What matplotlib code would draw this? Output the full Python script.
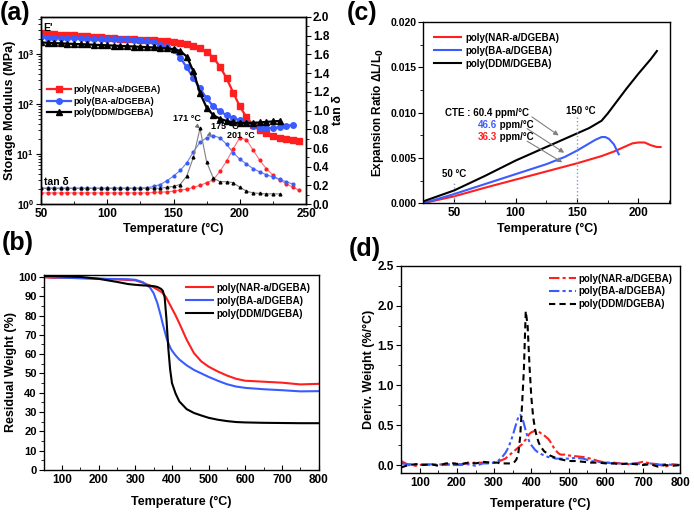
import numpy as np
import matplotlib.pyplot as plt
from matplotlib.ticker import MultipleLocator, FormatStrFormatter, LogLocator

plt.rcParams['font.family'] = ['Liberation Sans', 'DejaVu Sans']
plt.rcParams['font.weight'] = 'bold'
plt.rcParams['axes.labelweight'] = 'bold'
plt.rcParams['mathtext.default'] = 'bf'
plt.rcParams['font.size'] = 8.5
plt.rcParams['axes.linewidth'] = 1.0

RED = '#ff1f1f'
BLUE = '#3a5cff'
BLACK = '#000000'
names = ['poly(NAR-a/DGEBA)', 'poly(BA-a/DGEBA)', 'poly(DDM/DGEBA)']

# ---- (a) DMA ----
t_nar = np.arange(50, 250, 5)
t_ba = np.arange(50, 245, 5)
t_ddm = np.arange(50, 235, 5)
e_nar = [2600, 2550, 2500, 2450, 2400, 2350, 2300, 2250, 2200, 2150, 2100, 2050, 2000,
         1980, 1950, 1920, 1900, 1870, 1830, 1780, 1720, 1650, 1560, 1450, 1300, 1100,
         850, 560, 330, 170, 90, 55, 38, 30, 26, 23, 21, 20, 19, 18.5]
e_ba = [2150, 2120, 2100, 2080, 2060, 2050, 2040, 2030, 2020, 2010, 2000, 1990, 1980,
        1960, 1940, 1900, 1850, 1720, 1500, 1380, 1180, 850, 540, 330, 205, 130, 90,
        72, 60, 53, 47, 41, 36, 34, 33, 33, 34.5, 36.5, 38.5]
e_ddm = [1700, 1680, 1650, 1630, 1610, 1590, 1570, 1550, 1530, 1510, 1490, 1470, 1450,
         1430, 1410, 1390, 1370, 1350, 1320, 1290, 1250, 1150, 890, 450, 165, 85, 60,
         51, 46, 43, 42, 42, 42, 43, 44, 45, 46]
tan_nar = [0.12] * 17 + [0.125, 0.13, 0.13, 0.14, 0.15, 0.16, 0.18, 0.2, 0.23, 0.26,
                          0.35, 0.46, 0.59, 0.71, 0.69, 0.58, 0.47, 0.38, 0.31, 0.26,
                          0.22, 0.18, 0.15]
tan_ba = [0.17] * 16 + [0.175, 0.19, 0.21, 0.25, 0.3, 0.36, 0.44, 0.56, 0.66, 0.71,
                         0.73, 0.71, 0.64, 0.55, 0.48, 0.43, 0.38, 0.345, 0.315, 0.29,
                         0.265, 0.24, 0.215]
tan_ddm = [0.17] * 19 + [0.18, 0.19, 0.21, 0.3, 0.5, 0.81, 0.45, 0.28, 0.24, 0.24,
                          0.23, 0.18, 0.14, 0.12, 0.115, 0.11, 0.11, 0.11]

# ---- (b) TGA ----
t_tga = [50, 75, 100, 150, 200, 250, 280, 300, 320, 340, 350, 360, 370, 375, 380, 385,
         390, 395, 400, 410, 420, 440, 460, 480, 500, 525, 550, 575, 600, 650, 700, 750, 800]
w_nar = [99.8, 99.5, 99.6, 99.4, 99.1, 98.7, 98.4, 98.2, 97.0, 95.5, 94.6, 93.5, 92.3,
         91.5, 90.5, 89.0, 87.2, 85.4, 83.6, 80.0, 76.0, 67.5, 60.5, 56.2, 53.5, 51.0,
         48.9, 47.2, 46.2, 45.7, 45.2, 44.3, 44.6]
w_ba = [100.0, 99.8, 99.6, 99.3, 99.0, 98.9, 98.8, 98.5, 97.3, 94.5, 91.5, 86.5, 79.5,
        75.5, 72.0, 68.5, 65.8, 63.5, 61.8, 59.3, 57.2, 54.2, 51.8, 50.0, 48.2, 46.2,
        44.4, 43.2, 42.5, 41.8, 41.3, 40.7, 40.8]
w_ddm = [100.5, 100.5, 100.3, 100.0, 99.0, 97.4, 96.3, 95.9, 95.6, 95.4, 95.2, 94.8,
         93.8, 92.8, 89.5, 78.0, 63.0, 52.0, 45.0, 39.5, 35.5, 31.5, 29.5, 28.2, 27.0,
         26.0, 25.3, 24.8, 24.6, 24.4, 24.3, 24.2, 24.2]

# ---- (c) TMA ----
t_tma_nar = [25, 50, 75, 100, 125, 150, 160, 170, 180, 190, 195, 200, 205, 210, 215, 218]
x_nar = [0.0, 0.00075, 0.0017, 0.0026, 0.0035, 0.0044, 0.0048, 0.0052, 0.0057, 0.0063,
         0.0066, 0.0067, 0.0067, 0.0064, 0.0062, 0.0062]
t_tma_ba = [25, 50, 75, 100, 125, 140, 150, 160, 165, 170, 173, 176, 180, 184]
x_ba = [0.0, 0.001, 0.0021, 0.0032, 0.0043, 0.0051, 0.0058, 0.0066, 0.0070, 0.0073,
        0.0073, 0.0071, 0.0065, 0.0054]
t_tma_ddm = [25, 50, 75, 100, 125, 150, 160, 165, 170, 175, 180, 190, 200, 210, 215]
x_ddm = [0.0002, 0.0014, 0.003, 0.0047, 0.0062, 0.0077, 0.0083, 0.0087, 0.0091, 0.0099,
         0.0108, 0.0126, 0.0143, 0.0159, 0.0168]

# ---- (d) DTG ----
t_dtg = np.concatenate([np.arange(50, 300, 20), np.arange(300, 500, 5), np.arange(500, 801, 20)])
d_nar = [0.05, 0.0, -0.01, 0.01, 0.0, 0.01, 0.0, 0.02, 0.01, 0.02, 0.03, 0.03, 0.03,
         0.03, 0.04, 0.04, 0.05, 0.06, 0.07, 0.08, 0.1, 0.12, 0.14, 0.16, 0.18, 0.2, 0.22,
         0.24, 0.26, 0.29, 0.32, 0.36, 0.39, 0.41, 0.42, 0.43, 0.43, 0.42, 0.4, 0.39, 0.37,
         0.35, 0.33, 0.3, 0.26, 0.22, 0.19, 0.16, 0.14, 0.13, 0.13, 0.13, 0.12,
         0.12, 0.11, 0.1, 0.08, 0.05, 0.03, 0.03, 0.02, 0.01, 0.02, 0.04, 0.02, 0.01, -0.02, 0.01, 0.0]
d_ba = [0.02, 0.01, 0.01, 0.0, 0.01, 0.0, 0.01, 0.0, 0.0, 0.01, -0.01, 0.02, 0.02,
        0.03, 0.04, 0.05, 0.07, 0.09, 0.12, 0.15, 0.19, 0.24, 0.3, 0.37, 0.45, 0.53, 0.6,
        0.63, 0.6, 0.52, 0.43, 0.35, 0.29, 0.25, 0.22, 0.19, 0.17, 0.15, 0.14, 0.13, 0.12,
        0.11, 0.1, 0.1, 0.09, 0.09, 0.08, 0.08, 0.08, 0.08, 0.08, 0.08, 0.08,
        0.08, 0.09, 0.08, 0.05, 0.04, 0.03, 0.02, 0.02, 0.01, 0.02, 0.01, 0.02, 0.0, 0.01, 0.0, 0.0]
d_ddm = [-0.03, 0.0, 0.01, 0.0, 0.01, -0.01, 0.02, 0.02, 0.01, 0.03, 0.02, 0.04, 0.03,
         0.03, 0.03, 0.03, 0.02, 0.02, 0.02, 0.02, 0.02, 0.02, 0.02, 0.03, 0.04, 0.07, 0.15,
         0.35, 0.75, 1.2, 1.93, 1.75, 1.25, 0.85, 0.6, 0.45, 0.35, 0.28, 0.23, 0.2, 0.17,
         0.155, 0.14, 0.12, 0.11, 0.1, 0.09, 0.08, 0.075, 0.07, 0.065, 0.06, 0.055,
         0.05, 0.05, 0.04, 0.03, 0.03, 0.02, 0.02, 0.01, 0.02, 0.01, 0.0, 0.01, -0.02, 0.0, -0.01, 0.0]


def style(ax):
    ax.tick_params(axis='x', which='both', direction='in', top=False, pad=3)
    ax.tick_params(axis='y', which='both', direction='out', right=False, pad=1.5)
    ax.tick_params(which='major', length=3.5, labelsize=8.5)
    ax.tick_params(which='minor', length=2)
    for lab in ax.get_xticklabels() + ax.get_yticklabels():
        lab.set_fontweight('bold')


fig = plt.figure(figsize=(6.94, 5.13), dpi=100)

# (a)
ax = fig.add_axes([0.059, 0.602, 0.382, 0.365])
ax.plot(t_nar, e_nar, '-s', color=RED, ms=4, lw=1.6, label=names[0])
ax.plot(t_ba, e_ba, '-o', color=BLUE, ms=4, lw=1.6, label=names[1])
ax.plot(t_ddm, e_ddm, '-^', color=BLACK, ms=4, lw=1.6, label=names[2])
ax.set_yscale('log')
ax.set_ylim(1, 5500)
ax.set_xlim(50, 250)
ax.xaxis.set_major_locator(MultipleLocator(50))
ax.xaxis.set_minor_locator(MultipleLocator(25))
ax.yaxis.set_major_locator(LogLocator(base=10, numticks=6))
ax.set_xlabel('Temperature (°C)', fontsize=9, labelpad=2)
ax.set_ylabel('Storage Modulus (MPa)', fontsize=9, labelpad=0)
style(ax)
ax.tick_params(axis='y', labelsize=7.5)
ax.legend(loc='upper left', bbox_to_anchor=(0.0, 0.67), frameon=False, fontsize=6.5,
          handlelength=2.6, handletextpad=0.3, labelspacing=0.3, borderpad=0.2)
ax.text(52, 3300, "E'", fontsize=7.5, fontweight='bold', va='center')
ax2 = ax.twinx()
ax2.plot(t_nar, tan_nar, '-o', color='#ff7080', mfc=RED, mec=RED, ms=2, lw=0.8)
ax2.plot(t_ba, tan_ba, '-o', color='#7080d8', mfc=BLUE, mec=BLUE, ms=2, lw=0.8)
ax2.plot(t_ddm, tan_ddm, '-^', color='#808080', mfc=BLACK, mec=BLACK, ms=2, lw=0.8)
ax2.set_ylim(0, 2.0)
ax2.yaxis.set_major_locator(MultipleLocator(0.2))
ax2.yaxis.set_minor_locator(MultipleLocator(0.1))
ax2.yaxis.set_major_formatter(FormatStrFormatter('%.1f'))
ax2.tick_params(axis='y', which='both', direction='out', labelsize=8.5, pad=1.5)
ax2.tick_params(which='major', length=3.5)
ax2.tick_params(which='minor', length=2)
for lab in ax2.get_yticklabels():
    lab.set_fontweight('bold')
ax2.set_ylabel('tan δ', fontsize=9, labelpad=2)
ax2.text(52, 0.24, 'tan δ', fontsize=7.5, fontweight='bold', va='center')
arr = dict(arrowstyle='-|>', color='#707070', lw=0.7, mutation_scale=6)
ax2.annotate('171 °C', xy=(170, 0.81), xytext=(160, 0.92), fontsize=6.5, fontweight='bold',
             ha='center', va='center', arrowprops=arr)
ax2.annotate('175 °C', xy=(175, 0.73), xytext=(189, 0.83), fontsize=6.5, fontweight='bold',
             ha='center', va='center', arrowprops=arr)
ax2.text(201, 0.735, '201 °C', fontsize=6.5, fontweight='bold', ha='center', va='center')
fig.text(0.0, 0.998, '(a)', fontsize=18, fontweight='bold', va='top')

# (c)
ax = fig.add_axes([0.610, 0.604, 0.356, 0.353])
ax.plot(t_tma_nar, x_nar, color=RED, lw=1.5, label=names[0])
ax.plot(t_tma_ba, x_ba, color=BLUE, lw=1.5, label=names[1])
ax.plot(t_tma_ddm, x_ddm, color=BLACK, lw=1.5, label=names[2])
ax.set_xlim(25, 226)
ax.set_ylim(0, 0.02)
ax.xaxis.set_major_locator(MultipleLocator(50))
ax.xaxis.set_minor_locator(MultipleLocator(25))
ax.yaxis.set_major_locator(MultipleLocator(0.005))
ax.yaxis.set_minor_locator(MultipleLocator(0.0025))
ax.yaxis.set_major_formatter(FormatStrFormatter('%.3f'))
ax.set_xlabel('Temperature (°C)', fontsize=9, labelpad=3)
ax.set_ylabel('Expansion Ratio ΔL/L$_0$', fontsize=8.5, labelpad=3)
style(ax)
ax.tick_params(axis='y', labelsize=7.5)
ax.legend(loc='upper left', frameon=False, fontsize=7, handlelength=2.8,
          handletextpad=0.4, labelspacing=0.3, borderpad=0.6)
ax.plot([50, 50], [0, 0.0025], ls=':', color='#8898c0', lw=1)
ax.plot([150, 150], [0, 0.0096], ls=':', color='#8898c0', lw=1)
ax.text(50, 0.0032, '50 °C', fontsize=7, fontweight='bold', ha='center', va='center')
ax.text(153, 0.0102, '150 °C', fontsize=7, fontweight='bold', ha='center', va='center')
ax.text(111, 0.0100, 'CTE : 60.4 ppm/°C', fontsize=7, fontweight='bold', ha='right', va='center')
ax.text(85, 0.00866, '46.6', color=BLUE, fontsize=7, fontweight='bold', ha='right', va='center')
ax.text(85, 0.00866, ' ppm/°C', fontsize=7, fontweight='bold', ha='left', va='center')
ax.text(85, 0.0073, '36.3', color=RED, fontsize=7, fontweight='bold', ha='right', va='center')
ax.text(85, 0.0073, ' ppm/°C', fontsize=7, fontweight='bold', ha='left', va='center')
arr2 = dict(arrowstyle='-|>', color='#808080', lw=0.8, mutation_scale=7)
ax.annotate('', xy=(137, 0.0073), xytext=(111.5, 0.0097), arrowprops=arr2)
ax.annotate('', xy=(141.5, 0.0054), xytext=(107.5, 0.0084), arrowprops=arr2)
ax.annotate('', xy=(140, 0.00435), xytext=(107.5, 0.0070), arrowprops=arr2)
fig.text(0.5, 0.998, '(c)', fontsize=18, fontweight='bold', va='top')

# (b)
ax = fig.add_axes([0.063, 0.084, 0.396, 0.380])
ax.plot(t_tga, w_nar, color=RED, lw=1.5, label=names[0])
ax.plot(t_tga, w_ba, color=BLUE, lw=1.5, label=names[1])
ax.plot(t_tga, w_ddm, color=BLACK, lw=1.5, label=names[2])
ax.set_xlim(50, 800)
ax.set_ylim(0, 101)
ax.xaxis.set_major_locator(MultipleLocator(100))
ax.xaxis.set_minor_locator(MultipleLocator(50))
ax.yaxis.set_major_locator(MultipleLocator(10))
ax.yaxis.set_minor_locator(MultipleLocator(5))
ax.set_xlabel('Temperature (°C)', fontsize=9, labelpad=7)
ax.set_ylabel('Residual Weight (%)', fontsize=9, labelpad=1)
style(ax)
ax.tick_params(axis='y', labelsize=8)
ax.legend(loc='upper right', frameon=False, fontsize=7, handlelength=2.8,
          handletextpad=0.4, labelspacing=0.3, borderpad=0.3)
fig.text(0.003, 0.55, '(b)', fontsize=18, fontweight='bold', va='top')

# (d)
ax = fig.add_axes([0.578, 0.078, 0.402, 0.404])
ax.plot(t_dtg, d_nar, color=RED, lw=1.5, dashes=(5, 1.5, 1.5, 1.5), label=names[0])
ax.plot(t_dtg, d_ba, color=BLUE, lw=1.5, dashes=(5, 1.5, 1.5, 1.5, 1.5, 1.5), label=names[1])
ax.plot(t_dtg, d_ddm, color=BLACK, lw=1.5, dashes=(3, 2), label=names[2])
ax.set_xlim(50, 800)
ax.set_ylim(-0.1, 2.5)
ax.xaxis.set_major_locator(MultipleLocator(100))
ax.xaxis.set_minor_locator(MultipleLocator(50))
ax.yaxis.set_major_locator(MultipleLocator(0.5))
ax.yaxis.set_minor_locator(MultipleLocator(0.25))
ax.yaxis.set_major_formatter(FormatStrFormatter('%.1f'))
ax.set_xlabel('Temperature (°C)', fontsize=9, labelpad=6)
ax.set_ylabel('Deriv. Weight (%/°C)', fontsize=9, labelpad=2)
style(ax)
ax.legend(loc='upper right', frameon=False, fontsize=7, handlelength=2.8,
          handletextpad=0.2, labelspacing=0.3, borderpad=0.3)
fig.text(0.502, 0.538, '(d)', fontsize=18, fontweight='bold', va='top')

fig.savefig('out.png', dpi=100)
